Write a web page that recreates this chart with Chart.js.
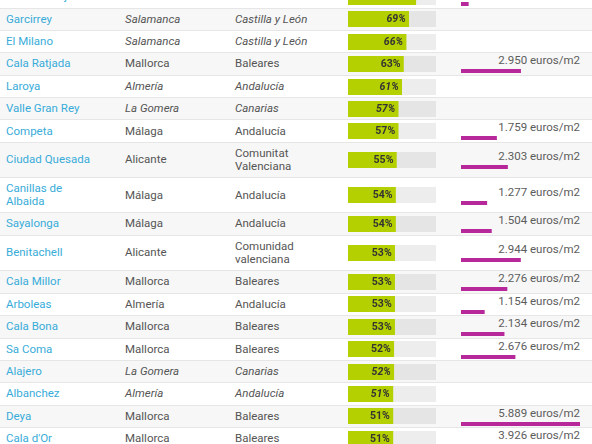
<!DOCTYPE html>
<html lang="es">
<head>
    <meta charset="UTF-8">
    <title>Municipios</title>
    <script src="https://cdn.jsdelivr.net/npm/chart.js"></script>
    <style>
        body { margin: 0; width: 592px; height: 444px; overflow: hidden; background: #fff; font-family: Roboto, sans-serif; font-size: 11.5px; }
        table { border-collapse: collapse; table-layout: fixed; width: 592px; margin-top: -14px; }
        tr { height: 22.3px; border-bottom: 1px solid #e6e6e6; }
        tr:nth-child(even) { background: #f7f7f7; }
        td { padding: 3.8px 6px; line-height: 13.3px; vertical-align: middle; color: #555; }
        td.name { color: #38acd9; padding-right: 23px; }
        td.reg { padding-right: 12px; }
        td.pct { padding: 0 0 0 6px; }
        td.price { padding: 0 12px 0 6px; }
        .it { font-style: italic; }
        .ptxt { text-align: right; line-height: 14px; color: #5c5c5c; white-space: nowrap; }
        canvas { display: block; }
        .pbar { margin: 2px 0 1.5px 0; }
    </style>
</head>
<body>
    <table>
        <colgroup>
            <col style="width:119px"><col style="width:110px"><col style="width:113px"><col style="width:113px"><col style="width:137px">
        </colgroup>
        <tbody id="rows"></tbody>
    </table>
    <script>
        const municipios = ['Fuente Obejuna', 'Garcirrey', 'El Milano', 'Cala Ratjada', 'Laroya', 'Valle Gran Rey', 'Competa',
            'Ciudad Quesada', 'Canillas de Albaida', 'Sayalonga', 'Benitachell', 'Cala Millor', 'Arboleas', 'Cala Bona',
            'Sa Coma', 'Alajero', 'Albanchez', 'Deya', "Cala d'Or"];
        const provincias = ['Córdoba', 'Salamanca', 'Salamanca', 'Mallorca', 'Almería', 'La Gomera', 'Málaga',
            'Alicante', 'Málaga', 'Málaga', 'Alicante', 'Mallorca', 'Almería', 'Mallorca',
            'Mallorca', 'La Gomera', 'Almería', 'Mallorca', 'Mallorca'];
        const comunidades = ['Andalucía', 'Castilla y León', 'Castilla y León', 'Baleares', 'Andalucía', 'Canarias', 'Andalucía',
            'Comunitat Valenciana', 'Andalucía', 'Andalucía', 'Comunidad valenciana', 'Baleares', 'Andalucía', 'Baleares',
            'Baleares', 'Canarias', 'Andalucía', 'Baleares', 'Baleares'];
        const porcentajes = [77, 69, 66, 63, 61, 57, 57, 55, 54, 54, 53, 53, 53, 53, 52, 52, 51, 51, 51];
        const precios = [362, null, null, 2950, null, null, 1759, 2303, 1277, 1504, 2944, 2276, 1154, 2134, 2676, null, null, 5889, 3926];

        const VERDE = '#b4d000';
        const FONDO = 'rgba(0,0,0,0.07)';
        const MAGENTA = '#b7289b';
        const maxPrecio = Math.max(...precios.filter(p => p !== null));

        function fmt(n) {
            return n.toString().replace(/\B(?=(\d{3})+(?!\d))/g, '.');
        }

        // etiqueta del porcentaje al final de la barra verde
        const etiqueta = {
            id: 'etiqueta',
            afterDatasetsDraw(chart) {
                const bar = chart.getDatasetMeta(0).data[0];
                const ctx = chart.ctx;
                ctx.save();
                ctx.font = (chart.options.cursiva ? 'italic ' : '') + 'bold 10.5px Roboto';
                ctx.fillStyle = '#333';
                ctx.textAlign = 'right';
                ctx.textBaseline = 'middle';
                ctx.fillText(chart.data.datasets[0].data[0] + '%', bar.x - 3, bar.y + 0.5);
                ctx.restore();
            }
        };

        const base = {
            indexAxis: 'y',
            responsive: false,
            animation: false,
            events: [],
            layout: { padding: 0 },
            plugins: { legend: { display: false }, tooltip: { enabled: false } },
            datasets: { bar: { grouped: false, barPercentage: 1, categoryPercentage: 1, borderWidth: 0 } }
        };

        const tbody = document.getElementById('rows');
        municipios.forEach((m, i) => {
            const sinPrecio = precios[i] === null;
            const tr = document.createElement('tr');
            const cls = sinPrecio ? ' it' : '';
            tr.innerHTML =
                '<td class="name">' + m + '</td>' +
                '<td class="' + cls + '">' + provincias[i] + '</td>' +
                '<td class="reg' + cls + '">' + comunidades[i] + '</td>' +
                '<td class="pct"><canvas width="88" height="16"></canvas></td>' +
                '<td class="price"></td>';
            tbody.appendChild(tr);

            new Chart(tr.querySelector('.pct canvas'), {
                type: 'bar',
                data: {
                    labels: [m],
                    datasets: [
                        { data: [porcentajes[i]], backgroundColor: VERDE, order: 0 },
                        { data: [100], backgroundColor: FONDO, order: 1 }
                    ]
                },
                options: Object.assign({}, base, {
                    cursiva: sinPrecio,
                    scales: { x: { display: false, min: 0, max: 100 }, y: { display: false } }
                }),
                plugins: [etiqueta]
            });

            if (!sinPrecio) {
                const td = tr.querySelector('.price');
                td.innerHTML = '<div class="ptxt">' + fmt(precios[i]) + ' euros/m2</div><canvas class="pbar" width="119" height="4"></canvas>';
                new Chart(td.querySelector('canvas'), {
                    type: 'bar',
                    data: { labels: [m], datasets: [{ data: [precios[i]], backgroundColor: MAGENTA }] },
                    options: Object.assign({}, base, {
                        scales: { x: { display: false, min: 0, max: maxPrecio }, y: { display: false } }
                    })
                });
            }
        });
    </script>
</body>
</html>
